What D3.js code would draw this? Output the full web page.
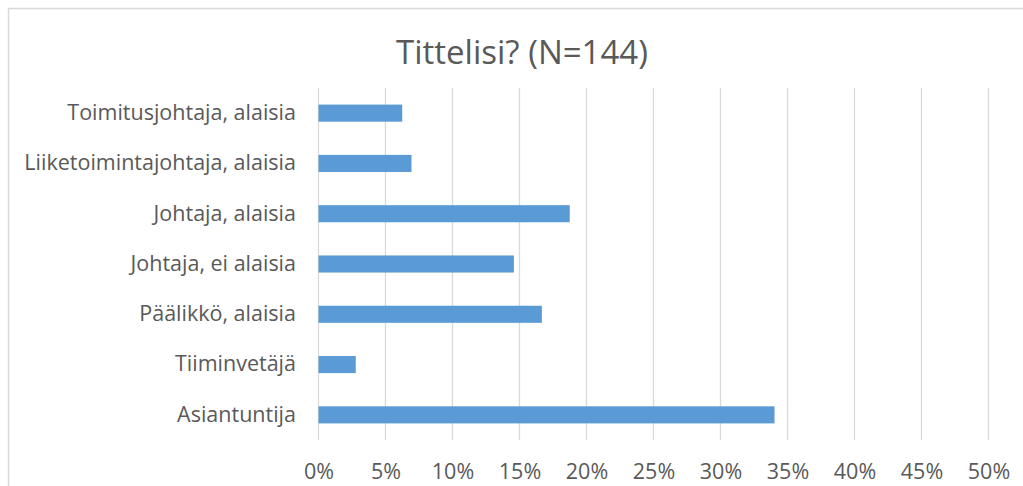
<!DOCTYPE html>
<html><head><meta charset="utf-8">
<script src="https://cdn.jsdelivr.net/npm/d3@7"></script>
<style>body{margin:0;background:#fff;} svg{display:block;}</style>
</head><body>
<script>
const categories = ["Toimitusjohtaja, alaisia","Liiketoimintajohtaja, alaisia","Johtaja, alaisia","Johtaja, ei alaisia","Päälikkö, alaisia","Tiiminvetäjä","Asiantuntija"];
const values = [6.25, 6.94, 18.75, 14.58, 16.67, 2.78, 34.03];
const xTicks = [0,5,10,15,20,25,30,35,40,45,50];
const title = "Tittelisi? (N=144)";

const W = 1023, H = 486;
const font = "'Open Sans', 'Liberation Sans', sans-serif";
const svg = d3.select("body").append("svg").attr("width", W).attr("height", H);
svg.append("rect").attr("width", W).attr("height", H).attr("fill", "#fff");
svg.append("path").attr("d", `M8.5,${H+2} V8.5 H${W+2}`).attr("fill","none").attr("stroke","#d9d9d9").attr("stroke-width",1.5);

const x = d3.scaleLinear().domain([0,50]).range([318.5, 988.5]);
const y = d3.scaleBand().domain(categories).range([88, 440]).paddingInner(0.66).paddingOuter(0.33);

svg.append("text").attr("x", 522).attr("y", 64).attr("text-anchor","middle")
  .attr("font-family", font).attr("font-size", 33).attr("fill","#595959").text(title);

const grid = svg.append("g");
grid.selectAll("line").data(xTicks).join("line")
  .attr("x1", d=>x(d)).attr("x2", d=>x(d)).attr("y1", 88).attr("y2", 440)
  .attr("stroke", "#d9d9d9").attr("stroke-width", 1.3);

svg.append("g").selectAll("rect").data(values).join("rect")
  .attr("x", x(0)).attr("y", (d,i)=>y(categories[i]))
  .attr("width", d=>x(d)-x(0)).attr("height", y.bandwidth())
  .attr("fill", "#5b9bd5");

const xAxis = svg.append("g").attr("transform", "translate(0,440)")
  .call(d3.axisBottom(x).tickValues(xTicks).tickFormat(d=>d+"%").tickSize(0).tickPadding(24));
xAxis.select(".domain").remove();
xAxis.selectAll("text").attr("font-family", font).attr("font-size", 21.5).attr("fill","#595959");

const yAxis = svg.append("g").attr("transform", "translate(296,0)")
  .call(d3.axisLeft(y).tickSize(0).tickPadding(0));
yAxis.select(".domain").remove();
yAxis.selectAll("text").attr("font-family", font).attr("font-size", 21.5).attr("fill","#595959");
</script>
</body></html>
